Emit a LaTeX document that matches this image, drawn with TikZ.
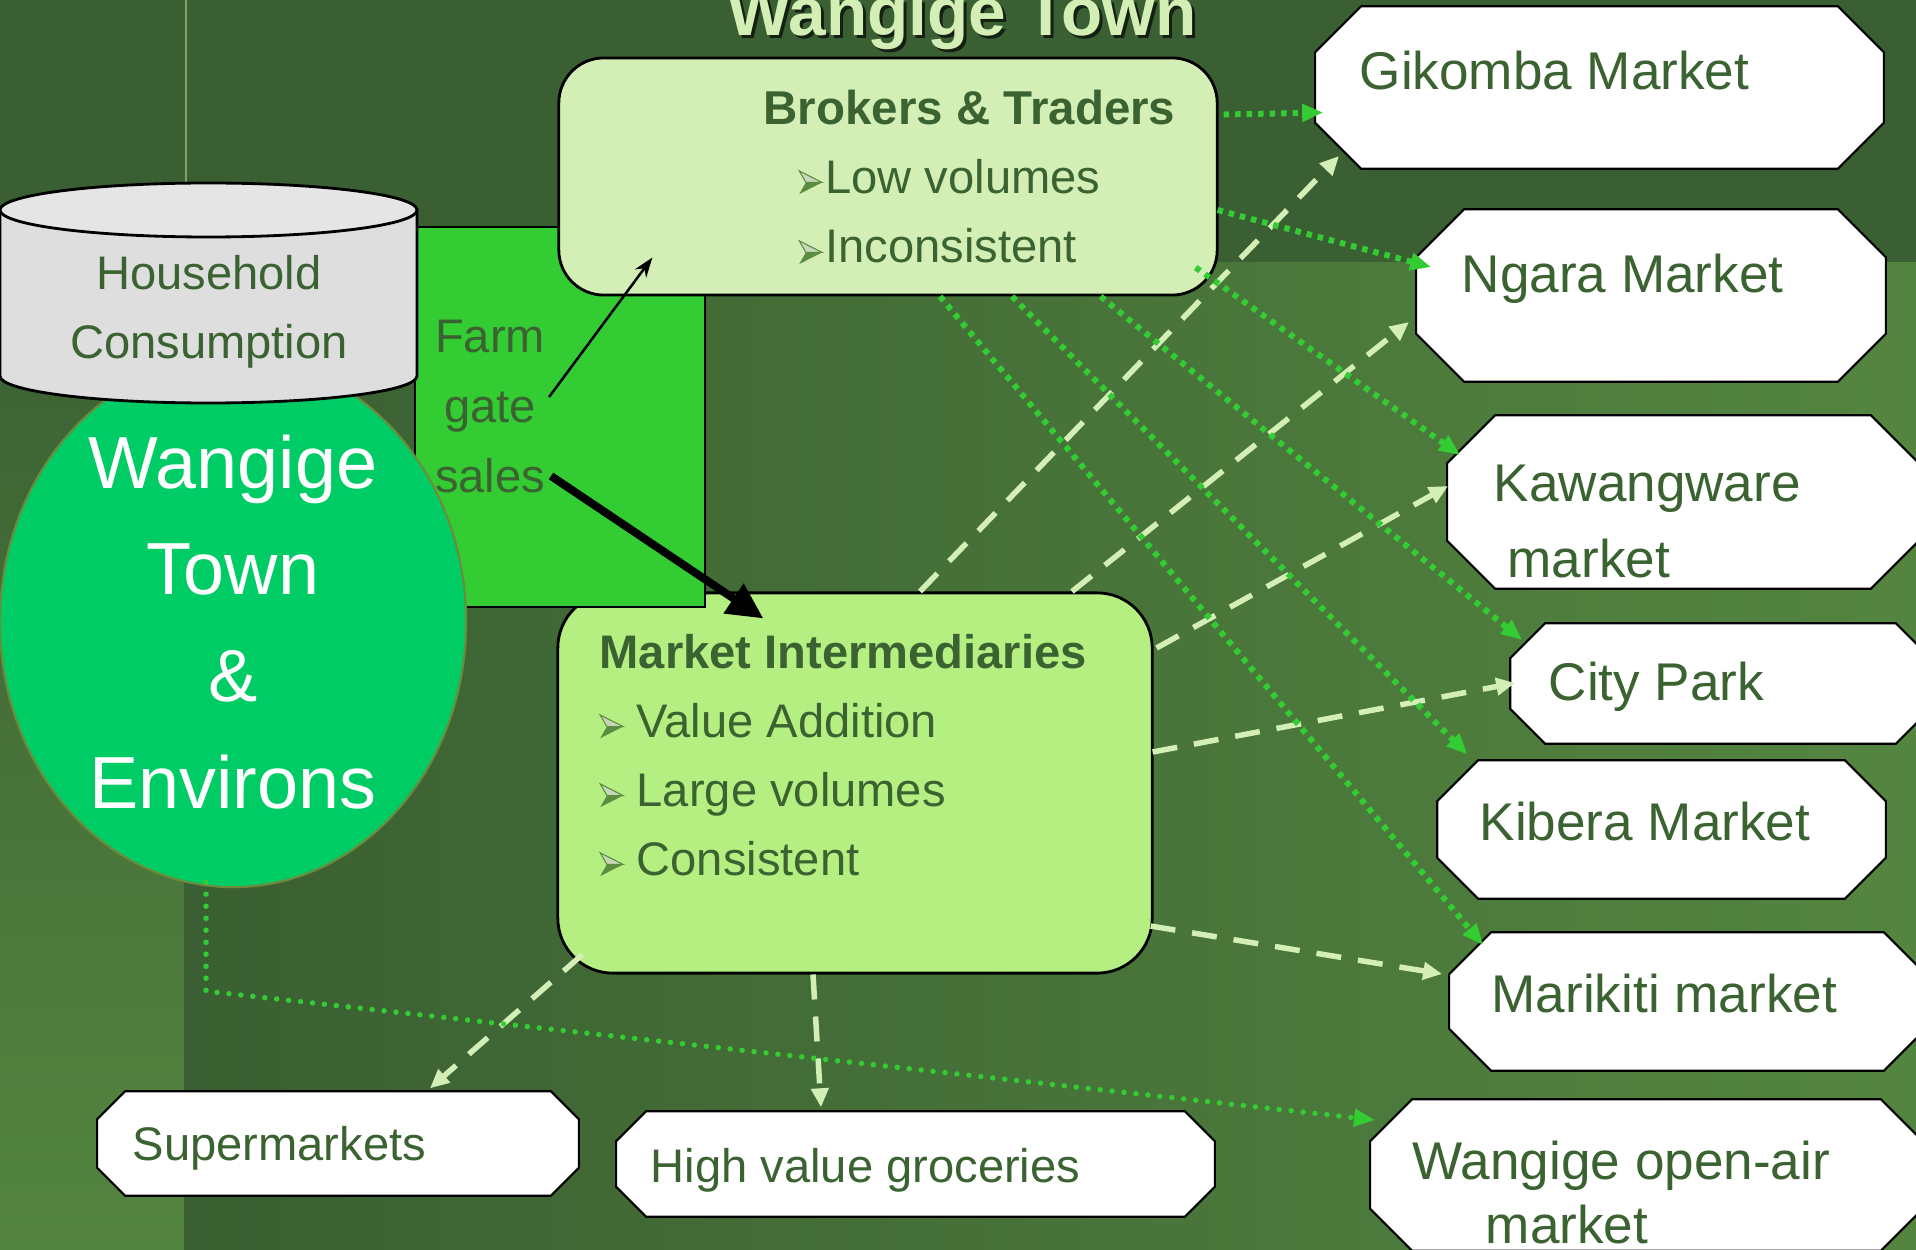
\documentclass[tikz,border=0pt]{standalone}
\usepackage{fontspec}
\setmainfont{Liberation Sans}
\usetikzlibrary{positioning}
\usetikzlibrary{calc}
\usetikzlibrary{shapes.geometric}
\usetikzlibrary{arrows.meta}

\definecolor{bgdark}{HTML}{3A5F32}
\definecolor{bglight}{HTML}{548540}
\definecolor{txtgreen}{HTML}{3B6332}
\definecolor{brokfill}{HTML}{D3EFB5}
\definecolor{interfill}{HTML}{B5EF82}
\definecolor{farmfill}{HTML}{33CC33}
\definecolor{townfill}{HTML}{00CC66}
\definecolor{townline}{HTML}{6E8B3D}
\definecolor{bulgreen}{HTML}{5B8C3F}

\newcommand{\fs}[2]{\fontsize{#1}{#2}\selectfont}
% little 3D arrowhead bullet
\newcommand{\bul}{\tikz[baseline=0pt]{%
	\filldraw[fill=bulgreen!35!white,draw=bulgreen,line width=0.3pt] (0,6.3pt) -- (6.5pt,3pt) -- (1.9pt,3pt) -- cycle;
	\fill[bulgreen] (0,-0.3pt) -- (6.5pt,3pt) -- (1.9pt,3pt) -- cycle;}}

\tikzset{>=stealth,
	% boxes
	mktbox/.style={rectangle, inner sep=0pt},
	octline/.style={draw=black, line width=0.6pt, fill=white},
	roundbox/.style={draw=black, line width=0.8pt, rounded corners=0.45cm, inner sep=0pt},
	txt/.style={inner sep=0pt, text=txtgreen, font=\fs{13.4}{19.6}},
	mtxt/.style={inner sep=0pt, text=txtgreen, font=\fs{15.1}{21}, anchor=base west, align=left},
	% connectors
	dotarrow/.style={draw=farmfill, line width=0.06cm, dash pattern=on 0.055cm off 0.06cm,
		-{Triangle[length=0.21cm,width=0.17cm]}},
	dasharrow/.style={draw=brokfill, line width=0.055cm, dash pattern=on 0.25cm off 0.17cm,
		-{Triangle[length=0.19cm,width=0.17cm]}},
}

\begin{document}
\begin{tikzpicture}[x=0.01cm,y=-0.01cm]
	\useasboundingbox (0,0) rectangle (1916,1249);
	
	% background
	\fill[bgdark] (0,0) rectangle (1916,1249);
	\shade[left color=bgdark, right color=bglight] (184,263) rectangle (1916,1249);
	\shade[top color=bgdark, bottom color=bglight] (0,263) rectangle (184,1249);
	\draw[color={rgb,255:red,127;green,163;blue,94}, line width=0.02cm] (186,0) -- (186,190);
	
	% title
	\node[font=\bfseries\fs{19.2}{23}, text=black!65!bgdark, anchor=base, inner sep=0pt] (titleS) at (965,39) {Wangige Town};
	\node[font=\bfseries\fs{19.2}{23}, text=brokfill, anchor=base, inner sep=0pt] (title) at (962,36) {Wangige Town};
	
	% boxes
	\node[roundbox, fill=interfill, rounded corners=0.55cm, minimum width=5.94cm, minimum height=3.8cm] (mi) at (855,783) {};
	\node[draw=black, line width=0.5pt, fill=farmfill, minimum width=2.9cm, minimum height=3.8cm, inner sep=0pt] (farm) at (560,417) {};
	\node[roundbox, fill=brokfill, minimum width=6.58cm, minimum height=2.37cm] (brk) at (888,176.5) {};
	
	\node[ellipse, fill=townfill, draw=townline, line width=0.6pt, minimum width=4.66cm, minimum height=5.2cm,
		inner sep=0pt, text=white, font=\fs{21}{30.4}, align=center] (town) at (233,622) {Wangige\\Town\\\&\\Environs};
	
	% household cylinder
	\fill[black!13] (0,210) -- (0,376) arc (180:0:208.5 and 27) -- (417,210) -- cycle;
	\draw[line width=0.8pt] (0,210) -- (0,376) arc (180:0:208.5 and 27) -- (417,210);
	\filldraw[fill=black!10, line width=0.8pt] (208.5,210) ellipse (208.5 and 27);
	
	% outlets
	\node[mktbox, minimum width=5.67cm, minimum height=1.61cm] (gik) at (1599.5,87.5) {};
	\node[mktbox, minimum width=4.68cm, minimum height=1.71cm] (nga) at (1651,295.5) {};
	\node[mktbox, minimum width=4.70cm, minimum height=1.72cm] (kaw) at (1683,502) {};
	\node[mktbox, minimum width=4.19cm, minimum height=1.19cm] (cit) at (1720.5,683.5) {};
	\node[mktbox, minimum width=4.47cm, minimum height=1.37cm] (kib) at (1661.5,829.5) {};
	\node[mktbox, minimum width=4.75cm, minimum height=1.37cm] (mar) at (1687.5,1001.5) {};
	\node[mktbox, minimum width=5.51cm, minimum height=1.50cm] (woa) at (1646.5,1175) {};
	\node[mktbox, minimum width=4.80cm, minimum height=1.03cm] (sup) at (338,1143.5) {};
	\node[mktbox, minimum width=5.97cm, minimum height=1.04cm] (hvg) at (915.5,1164) {};
	\foreach \n/\c in {gik/46,nga/48,kaw/48,cit/35,kib/41,mar/42,woa/42,sup/28,hvg/30}
		\filldraw[octline] ($(\n.north west)+(\c,0)$) -- ($(\n.north east)+(-\c,0)$) -- ($(\n.north east)+(0,\c)$)
			-- ($(\n.south east)+(0,-\c)$) -- ($(\n.south east)+(-\c,0)$) -- ($(\n.south west)+(\c,0)$)
			-- ($(\n.south west)+(0,-\c)$) -- ($(\n.north west)+(0,\c)$) -- cycle;
	
	% texts
	\node[txt, align=center, font=\fs{13.4}{19.35}, anchor=base] (hhT) at (209,358) {Household\\Consumption};
	\node[txt, align=center, font=\fs{13.4}{19.8}, anchor=base] (farmT) at (490,492) {Farm\\gate\\sales};
	\node[txt, font=\bfseries\fs{13.5}{19.6}, anchor=base west] (brkT) at (763,125) {Brokers \& Traders};
	\node[txt, align=left, font=\fs{13.4}{19.9}, anchor=base west] (brkL) at (798,263) {\bul\kern0.8pt Low volumes\\\bul\kern0.8pt Inconsistent};
	\node[txt, align=left, anchor=base west] (miT) at (599,875) {\textbf{Market Intermediaries}\\\bul\ Value Addition\\\bul\ Large volumes\\\bul\ Consistent};
	
	\node[mtxt] (gikT) at (1359,90) {Gikomba Market};
	\node[mtxt] (ngaT) at (1461,293) {Ngara Market};
	\node[mtxt, font=\fs{15.1}{21.6}] (kawT) at (1493,577) {Kawangware\\\hspace{0.14cm}market};
	\node[mtxt] (citT) at (1548,700) {City Park};
	\node[mtxt] (kibT) at (1479,840) {Kibera Market};
	\node[mtxt] (marT) at (1491,1012) {Marikiti market};
	\node[mtxt, font=\fs{15.1}{18.2}] (woaT) at (1412,1243) {Wangige open-air\\\hspace{0.73cm}market};
	\node[txt, anchor=base west] (supT) at (132,1160) {Supermarkets};
	\node[txt, anchor=base west] (hvgT) at (650,1182) {High value groceries};
	
	% farm gate arrows
	\draw[line width=0.025cm, -{Stealth[length=0.2cm,width=0.14cm]}] ($(farm.north west)+(135,171)$) -- ($(brk.south west)+(95,-39)$);
	\draw[line width=0.08cm, -{Triangle[length=0.36cm,width=0.34cm]}] ($(farm.north west)+(137,250)$) -- ($(mi.north west)+(207,27)$);
	
	% intermediaries to outlets
	\draw[dasharrow] ($(mi.north)+(65,0)$) -- ($(gik)+(-260.5,68.5)$);
	\draw[dasharrow] ($(mi.north)+(217,0)$) -- ($(nga)+(-242,26.5)$);
	\draw[dasharrow] ($(mi.east)+(3,-135)$) -- ($(kaw.west)+(1,-16)$);
	\draw[dasharrow] ($(mi.east)+(-1,-31)$) -- ($(cit.west)+(5,-0.5)$);
	\draw[dasharrow] ($(mi.east)+(-3,143)$) -- ($(mar.west)+(-7,-27.5)$);
	\draw[dasharrow] ($(mi.south west)+(26,-20)$) -- ($(sup.north)+(92,-3)$);
	\draw[dasharrow] ($(mi.south)+(-42,0)$) -- ($(hvg.north)+(-94.5,-4)$);
	
	% brokers to markets
	\draw[dotarrow] ($(brk.north east)+(5,58)$) -- ($(gik.west)+(8,25)$);
	\draw[dotarrow] ($(brk.east)+(-1,33.5)$) -- ($(nga.west)+(15,-28.5)$);
	\draw[dotarrow] ($(brk.south east)+(-23,-29)$) -- ($(kaw.west)+(13,-47)$);
	\draw[dotarrow] ($(brk.south east)+(-118,0)$) -- ($(cit.west)+(12,-43.5)$);
	\draw[dotarrow] ($(brk.south)+(124,0)$) -- ($(kib)+(-194,-75)$);
	\draw[dotarrow] ($(brk.south)+(52,0)$) -- ($(mar)+(-204.5,-56.5)$);
	
	% town to open-air market
	\draw[dotarrow, line width=0.055cm, line cap=round, dash pattern=on 0pt off 0.12cm] ($(town.south)+(-27,-6)$) -- ++(0,109) -- ($(woa)+(-271.5,-55)$);
	
\end{tikzpicture}
\end{document}
